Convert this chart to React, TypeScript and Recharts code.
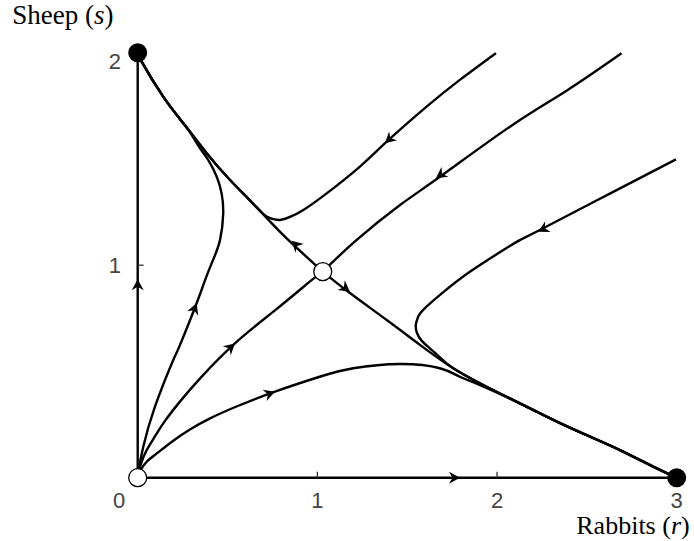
import { ComposedChart, Line, Scatter, XAxis, YAxis, ReferenceDot } from "recharts";

type Pt = { r: number; s: number };

// Trajectories, each listed in the direction of flow
const sAxisFlow: Pt[] = [{ r: 0, s: 0 }, { r: 0, s: 2 }];
const rAxisFlow: Pt[] = [{ r: 0, s: 0 }, { r: 3, s: 0 }];

// unstable manifold of the saddle, branch towards (0, 2)
const saddleToSheep: Pt[] = [
  { r: 1.03, s: 0.97 }, { r: 0.838, s: 1.119 }, { r: 0.699, s: 1.239 }, { r: 0.514, s: 1.401 },
  { r: 0.384, s: 1.527 }, { r: 0.254, s: 1.668 }, { r: 0.142, s: 1.793 }, { r: 0.022, s: 1.958 },
  { r: 0, s: 2 },
];

// unstable manifold of the saddle, branch towards (3, 0)
const saddleToRabbits: Pt[] = [
  { r: 1.03, s: 0.97 }, { r: 1.172, s: 0.875 }, { r: 1.386, s: 0.742 }, { r: 1.571, s: 0.625 },
  { r: 1.756, s: 0.515 }, { r: 1.942, s: 0.428 }, { r: 2.127, s: 0.35 }, { r: 2.313, s: 0.272 },
  { r: 2.499, s: 0.2 }, { r: 2.684, s: 0.13 }, { r: 2.869, s: 0.052 }, { r: 3, s: 0 },
];

// stable manifold (separatrix), lower half from the origin
const originToSaddle: Pt[] = [
  { r: 0, s: 0 }, { r: 0.02, s: 0.07 }, { r: 0.05, s: 0.13 }, { r: 0.1, s: 0.2 },
  { r: 0.15, s: 0.265 }, { r: 0.235, s: 0.358 }, { r: 0.35, s: 0.47 }, { r: 0.541, s: 0.632 },
  { r: 0.75, s: 0.778 }, { r: 0.9, s: 0.882 }, { r: 0.968, s: 0.93 }, { r: 1.03, s: 0.97 },
];

// stable manifold, upper half coming in from the top right
const farToSaddle: Pt[] = [
  { r: 2.693, s: 1.997 }, { r: 2.387, s: 1.821 }, { r: 2.072, s: 1.652 }, { r: 1.682, s: 1.416 },
  { r: 1.46, s: 1.283 }, { r: 1.219, s: 1.119 }, { r: 1.03, s: 0.97 },
];

const originLoopToSheep: Pt[] = [
  { r: 0, s: 0 }, { r: 0.008, s: 0.05 }, { r: 0.031, s: 0.146 }, { r: 0.096, s: 0.334 },
  { r: 0.198, s: 0.554 }, { r: 0.235, s: 0.624 }, { r: 0.328, s: 0.821 }, { r: 0.375, s: 0.93 },
  { r: 0.419, s: 1.024 }, { r: 0.458, s: 1.118 }, { r: 0.476, s: 1.244 }, { r: 0.467, s: 1.338 },
  { r: 0.44, s: 1.416 }, { r: 0.393, s: 1.495 }, { r: 0.347, s: 1.55 }, { r: 0.3, s: 1.615 },
  { r: 0.254, s: 1.668 }, { r: 0.142, s: 1.793 }, { r: 0.022, s: 1.958 }, { r: 0, s: 2 },
];

const topToSheep: Pt[] = [
  { r: 1.994, s: 1.998 }, { r: 1.793, s: 1.872 }, { r: 1.608, s: 1.746 }, { r: 1.386, s: 1.581 },
  { r: 1.237, s: 1.464 }, { r: 1.052, s: 1.338 }, { r: 0.922, s: 1.26 }, { r: 0.848, s: 1.227 },
  { r: 0.792, s: 1.213 }, { r: 0.736, s: 1.221 }, { r: 0.69, s: 1.248 }, { r: 0.62, s: 1.31 },
  { r: 0.514, s: 1.401 }, { r: 0.384, s: 1.527 }, { r: 0.254, s: 1.668 }, { r: 0.142, s: 1.793 },
  { r: 0.022, s: 1.958 }, { r: 0, s: 2 },
];

const originArcToRabbits: Pt[] = [
  { r: 0, s: 0 }, { r: 0.02, s: 0.04 }, { r: 0.05, s: 0.075 }, { r: 0.1, s: 0.11 },
  { r: 0.2, s: 0.175 }, { r: 0.293, s: 0.228 }, { r: 0.4, s: 0.278 }, { r: 0.55, s: 0.335 },
  { r: 0.764, s: 0.405 }, { r: 1.013, s: 0.475 }, { r: 1.2, s: 0.515 }, { r: 1.46, s: 0.535 },
  { r: 1.682, s: 0.515 }, { r: 1.793, s: 0.475 }, { r: 1.905, s: 0.436 }, { r: 2.127, s: 0.35 },
  { r: 2.313, s: 0.272 }, { r: 2.499, s: 0.2 }, { r: 2.684, s: 0.13 }, { r: 2.869, s: 0.052 },
  { r: 3, s: 0 },
];

const rightToRabbits: Pt[] = [
  { r: 2.996, s: 1.498 }, { r: 2.628, s: 1.337 }, { r: 2.257, s: 1.174 }, { r: 2.127, s: 1.118 },
  { r: 2.044, s: 1.076 }, { r: 1.849, s: 0.969 }, { r: 1.701, s: 0.873 }, { r: 1.589, s: 0.79 },
  { r: 1.56, s: 0.755 }, { r: 1.548, s: 0.72 }, { r: 1.555, s: 0.68 }, { r: 1.58, s: 0.645 },
  { r: 1.62, s: 0.613 }, { r: 1.68, s: 0.568 }, { r: 1.756, s: 0.515 }, { r: 1.942, s: 0.428 },
  { r: 2.127, s: 0.35 }, { r: 2.313, s: 0.272 }, { r: 2.499, s: 0.2 }, { r: 2.684, s: 0.13 },
  { r: 2.869, s: 0.052 }, { r: 3, s: 0 },
];

const trajectories: Pt[][] = [
  sAxisFlow, rAxisFlow, saddleToSheep, saddleToRabbits, originToSaddle, farToSaddle,
  originLoopToSheep, topToSheep, originArcToRabbits, rightToRabbits,
];

// arrowhead tips, with the trajectory they sit on
const arrows: { on: Pt[]; r: number; s: number }[] = [
  { on: sAxisFlow, r: 0, s: 0.934 },
  { on: rAxisFlow, r: 1.794, s: 0 },
  { on: saddleToSheep, r: 0.857, s: 1.115 },
  { on: saddleToRabbits, r: 1.181, s: 0.875 },
  { on: originToSaddle, r: 0.541, s: 0.632 },
  { on: farToSaddle, r: 1.66, s: 1.409 },
  { on: originLoopToSheep, r: 0.328, s: 0.821 },
  { on: topToSheep, r: 1.376, s: 1.574 },
  { on: originArcToRabbits, r: 0.764, s: 0.405 },
  { on: rightToRabbits, r: 2.229, s: 1.158 },
];

const stableNodes: Pt[] = [{ r: 0, s: 2 }, { r: 3, s: 0 }];
const unstablePoints: Pt[] = [{ r: 0, s: 0 }, { r: 1.03, s: 0.97 }];

const rTicks = [0, 1, 2, 3];
const sTicks = [1, 2];

const W = 694;
const H = 541;
const MARGIN = { top: 52.7, right: 17.3, bottom: 23.3, left: 77.7 };
const Y_AXIS_W = 60;
const X_AXIS_H = 40;
const R_MAX = 3;
const S_MAX = 2;
const PX_PER_R = (W - MARGIN.left - Y_AXIS_W - MARGIN.right) / R_MAX;
const PX_PER_S = (H - MARGIN.top - MARGIN.bottom - X_AXIS_H) / S_MAX;

const SANS = "'Liberation Sans', Arial, Helvetica, sans-serif";
const SERIF = "'Liberation Serif', 'Times New Roman', Times, serif";

// screen-space heading of a trajectory near a given point
function headingAt(curve: Pt[], r: number, s: number) {
  let best = 0;
  let bestD = Infinity;
  curve.forEach((p, i) => {
    const d = (p.r - r) ** 2 + (p.s - s) ** 2;
    if (d < bestD) {
      bestD = d;
      best = i;
    }
  });
  const a = curve[Math.max(0, best - 1)];
  const b = curve[Math.min(curve.length - 1, best + 1)];
  const dx = (b.r - a.r) * PX_PER_R;
  const dy = -(b.s - a.s) * PX_PER_S;
  return (Math.atan2(dy, dx) * 180) / Math.PI;
}

const arrowMarks = arrows.map((a) => ({ r: a.r, s: a.s, heading: headingAt(a.on, a.r, a.s) }));

const ArrowHead = (props: any) => {
  const { cx, cy, payload } = props;
  if (cx == null || cy == null) return null;
  return (
    <path
      d="M0,0 L-11,-6 L-7.5,0 L-11,6 Z"
      fill="#000"
      transform={`translate(${cx},${cy}) rotate(${payload.heading})`}
    />
  );
};

const RTick = (props: any) => {
  const { x, y, payload } = props;
  // the origin label sits off to the lower left of the corner
  const dx = payload.value === 0 ? -18.5 : 0;
  return (
    <text x={x + dx} y={y} dy="0.71em" textAnchor="middle" fontFamily={SANS} fontSize={22} fill="#444">
      {payload.value}
    </text>
  );
};

const STick = (props: any) => {
  const { x, y, payload } = props;
  // top label is nudged down, clear of the node marker
  const dy = payload.value === S_MAX ? 8 : 0;
  return (
    <text x={x} y={y + dy} dy="0.355em" textAnchor="end" fontFamily={SANS} fontSize={22} fill="#444">
      {payload.value}
    </text>
  );
};

export default function App() {
  return (
    <div style={{ position: "absolute", left: 0, top: 0, width: W, height: H, background: "#fff" }}>
      <ComposedChart width={W} height={H} margin={MARGIN}>
        <XAxis
          type="number"
          dataKey="r"
          domain={[0, R_MAX]}
          ticks={rTicks}
          interval={0}
          height={X_AXIS_H}
          axisLine={false}
          tickSize={-6}
          tickMargin={20.5}
          tickLine={{ stroke: "#333", strokeWidth: 1.3 }}
          tick={<RTick />}
          label={{
            content: ({ viewBox }: any) => (
              <text
                x={viewBox.x + viewBox.width + 13}
                y={viewBox.y + 56.5}
                textAnchor="end"
                fontFamily={SERIF}
                fontSize={26}
                fill="#000"
              >
                Rabbits (<tspan fontStyle="italic">r</tspan>)
              </text>
            ),
          }}
        />
        <YAxis
          type="number"
          dataKey="s"
          domain={[0, S_MAX]}
          ticks={sTicks}
          interval={0}
          width={Y_AXIS_W}
          axisLine={false}
          tickSize={-6}
          tickMargin={22.7}
          tickLine={{ stroke: "#333", strokeWidth: 1.3 }}
          tick={<STick />}
          label={{
            content: ({ viewBox }: any) => (
              <text x={viewBox.x - 65.5} y={viewBox.y - 29} fontFamily={SERIF} fontSize={27} fill="#000">
                Sheep (<tspan fontStyle="italic">s</tspan>)
              </text>
            ),
          }}
        />

        {trajectories.map((pts, i) => (
          <Line
            key={i}
            data={pts}
            dataKey="s"
            type="natural"
            stroke="#000"
            strokeWidth={2.4}
            dot={false}
            activeDot={false}
            isAnimationActive={false}
          />
        ))}

        <Scatter data={arrowMarks} dataKey="s" shape={<ArrowHead />} isAnimationActive={false} />

        {stableNodes.map((p, i) => (
          <ReferenceDot key={`st${i}`} x={p.r} y={p.s} r={9.5} fill="#000" stroke="none" />
        ))}
        {unstablePoints.map((p, i) => (
          <ReferenceDot key={`un${i}`} x={p.r} y={p.s} r={9} fill="#fff" stroke="#000" strokeWidth={1.3} />
        ))}
      </ComposedChart>
    </div>
  );
}
